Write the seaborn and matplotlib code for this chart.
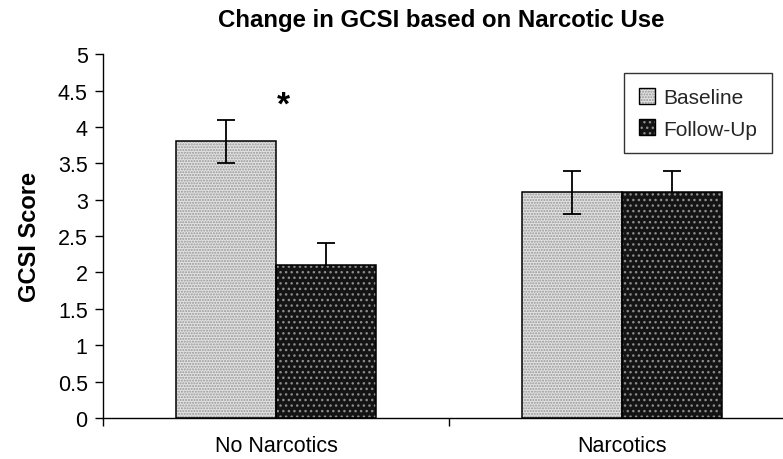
import matplotlib
matplotlib.use("Agg")
import matplotlib.pyplot as plt
import pandas as pd
import seaborn as sns
from matplotlib.patches import Patch, Rectangle
from matplotlib.legend_handler import HandlerTuple

# Data
groups = ["No Narcotics", "Narcotics"]
timepoints = ["Baseline", "Follow-Up"]
baseline_scores = [3.8, 3.1]
followup_scores = [2.1, 3.1]
baseline_err = [0.3, 0.3]
followup_err = [0.3, 0.3]
y_ticks = [0, 0.5, 1, 1.5, 2, 2.5, 3, 3.5, 4, 4.5, 5]
y_tick_labels = ["0", "0.5", "1", "1.5", "2", "2.5", "3", "3.5", "4", "4.5", "5"]

sns.set_theme(style="white")
plt.rcParams["font.family"] = ["Liberation Sans", "DejaVu Sans"]
plt.rcParams["hatch.linewidth"] = 1.0

df = pd.DataFrame({
    "group": groups + groups,
    "time": [timepoints[0]] * len(groups) + [timepoints[1]] * len(groups),
    "score": baseline_scores + followup_scores,
})
errors = {timepoints[0]: baseline_err, timepoints[1]: followup_err}

# fill colour, hatch pattern, hatch colour per time point
styles = {
    "Baseline": ("#e2e2e2", "......", "#969696"),
    "Follow-Up": ("#141414", "...", "#8c8c8c"),
}

fig = plt.figure(figsize=(7.83, 4.6), dpi=100)
ax = fig.add_axes([0.1315, 0.0891, 0.884, 0.791])

sns.barplot(data=df, x="group", y="score", hue="time", order=groups,
            hue_order=timepoints, palette=[styles[t][0] for t in timepoints],
            width=0.578, errorbar=None, saturation=1, legend=False, ax=ax)

for t, container in zip(timepoints, ax.containers):
    face, hatch, hcol = styles[t]
    for bar in container:
        bar.set_facecolor(face)
        bar.set_hatch(hatch)
        bar.set_edgecolor(hcol)
        bar.set_linewidth(0)
        bar.set_zorder(2)
        outline = Rectangle(bar.get_xy(), bar.get_width(), bar.get_height(),
                            fill=False, edgecolor="black", linewidth=1.1, zorder=2.1)
        ax.add_patch(outline)
        xc = bar.get_x() + bar.get_width() / 2
        gi = int(round(xc))
        ax.errorbar(xc, bar.get_height(), yerr=errors[t][gi], fmt="none",
                    ecolor="black", elinewidth=1.3, capsize=6.2, capthick=1.3,
                    zorder=3 if t == "Baseline" else 1.5)

# Axes styling
ax.set_xlim(-0.5, 1.5)
ax.set_ylim(0, 5)
ax.set_yticks(y_ticks)
ax.set_yticklabels(y_tick_labels)
ax.set_xticks(range(len(groups)))
ax.set_xticklabels(groups)
ax.set_xticks([-0.5, 0.5, 1.5], minor=True)
ax.tick_params(axis="x", which="major", length=0, pad=12, labelsize=15.5, colors="black")
ax.tick_params(axis="x", which="minor", length=6, width=1, direction="out",
               bottom=True, colors="black")
ax.tick_params(axis="y", length=6, width=1, direction="out", left=True,
               labelsize=15.5, pad=5, colors="black")
for side in ["top", "right"]:
    ax.spines[side].set_visible(False)
for side in ["left", "bottom"]:
    ax.spines[side].set_color("black")
    ax.spines[side].set_linewidth(1)
ax.set_xlabel("")
ax.set_ylabel("GCSI Score", fontsize=17, fontweight="bold", color="black")
ax.yaxis.set_label_coords(-0.09, 0.5)

ax.text(0.02, 4.3, "*", ha="center", va="center", fontsize=24,
        fontweight="bold", color="black")

fig.text(0.563, 0.955, "Change in GCSI based on Narcotic Use", ha="center",
         va="center", fontsize=17.3, fontweight="bold", color="black")

# Legend with patterned swatches
handles = []
for t in timepoints:
    face, hatch, hcol = styles[t]
    handles.append((Patch(facecolor=face, hatch=hatch, edgecolor=hcol, linewidth=0),
                    Patch(fill=False, edgecolor="black", linewidth=1)))
leg = ax.legend(handles, timepoints, handler_map={tuple: HandlerTuple(ndivide=1)},
                loc="upper right", bbox_to_anchor=(772 / 783, 1 - 74 / 460),
                bbox_transform=fig.transFigure, fontsize=15, frameon=True,
                fancybox=False, handlelength=0.8, handleheight=0.8,
                handletextpad=0.4, borderpad=0.7, labelspacing=0.6,
                borderaxespad=0)
leg.get_frame().set_edgecolor("black")
leg.get_frame().set_linewidth(1)

fig.savefig("out.png", dpi=100)
